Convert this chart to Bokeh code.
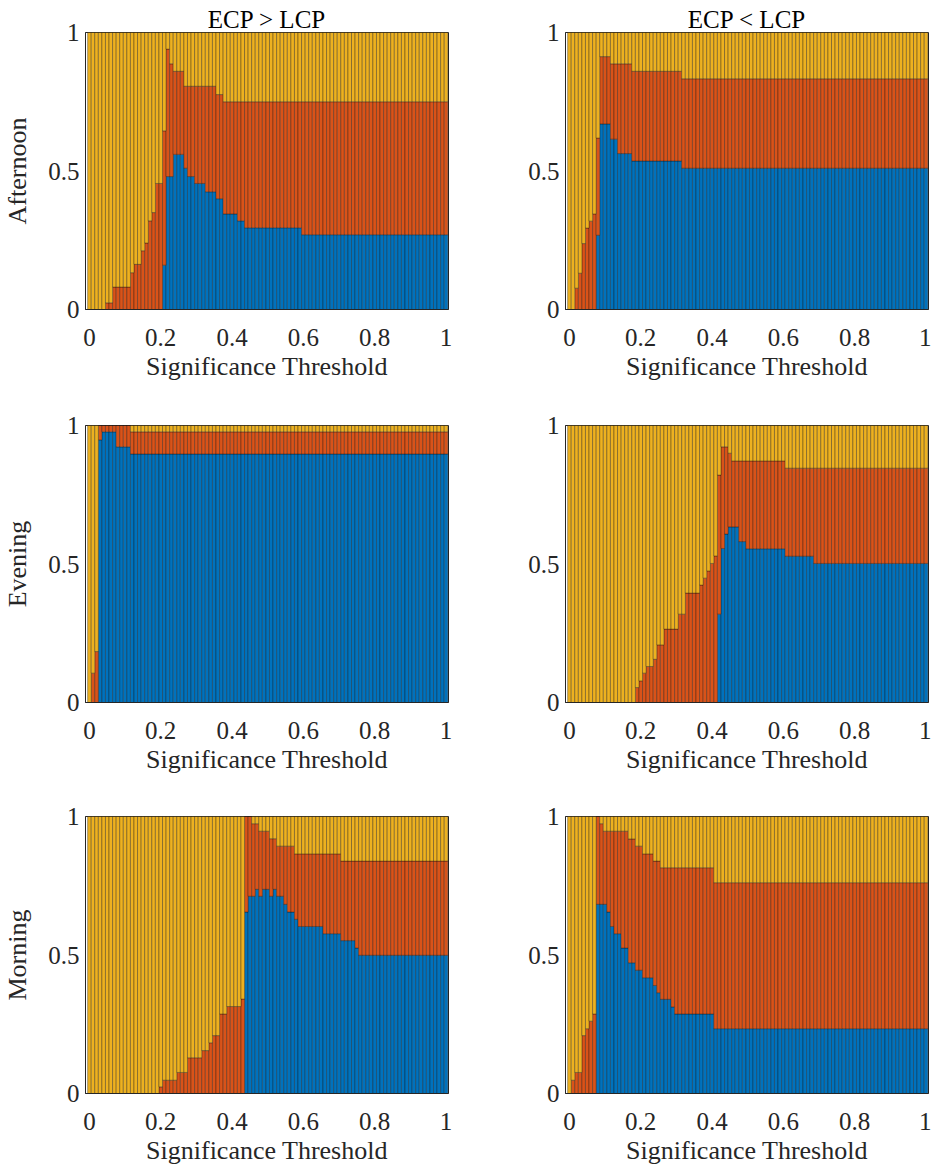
import numpy as np
from bokeh.plotting import figure
from bokeh.models import ColumnDataSource, Range1d, FixedTicker
from bokeh.layouts import column, row
from bokeh.embed import file_html
from bokeh.resources import INLINE

# ---------------- data ----------------
thresholds = np.round(np.arange(101) * 0.01, 2)   # significance thresholds 0 .. 1

col_titles = ["ECP > LCP", "ECP < LCP"]
row_titles = ["Afternoon", "Evening", "Morning"]
x_label = "Significance Threshold"
x_ticks = [0, 0.2, 0.4, 0.6, 0.8, 1]
x_tick_labels = ["0", "0.2", "0.4", "0.6", "0.8", "1"]
y_ticks = [0, 0.5, 1]
y_tick_labels = ["0", "0.5", "1"]
series_colors = ["#0072BD", "#D95319", "#EDB120"]   # blue, red, yellow

# "blue" = share of the bottom (blue) segment, "top" = upper edge of the red segment
# (the remaining share up to 1 is yellow)
aft_gt_blue = ([0] * 21 + [0.16] + [0.48] * 2 + [0.56] * 3 + [0.51] + [0.48] * 2 + [0.455] * 3
               + [0.425] * 3 + [0.40] * 2 + [0.345] * 4 + [0.32] * 2 + [0.295] * 16 + [0.27] * 41)
aft_gt_top = ([0] * 5 + [0.024] * 2 + [0.081] * 5 + [0.133] + [0.163] * 2 + [0.212] + [0.24] + [0.32]
              + [0.35] + [0.455] * 2 + [0.645] + [0.94] + [0.887] + [0.86] * 3 + [0.806] * 9
              + [0.776] * 2 + [0.75] * 63)

aft_lt_blue = [0] * 8 + [0.268] + [0.67] * 3 + [0.615] * 2 + [0.563] * 4 + [0.536] * 14 + [0.51] * 69
aft_lt_top = ([0] * 2 + [0.077, 0.131, 0.238, 0.294, 0.319, 0.345, 0.619] + [0.913] * 3 + [0.887] * 6
              + [0.86] * 14 + [0.833] * 69)

eve_gt_blue = [0] * 3 + [0.948] + [0.977] * 4 + [0.923] * 4 + [0.897] * 89
eve_gt_top = [0, 0.106, 0.184] + [1.0] * 9 + [0.977] * 89

eve_lt_blue = ([0] * 42 + [0.319, 0.556, 0.608] + [0.634] * 3 + [0.581] * 2 + [0.555] * 11
               + [0.528] * 8 + [0.502] * 32)
eve_lt_top = ([0] * 19 + [0.054, 0.078, 0.106] + [0.13] * 2 + [0.156] + [0.208] * 2 + [0.265] * 4
              + [0.319] * 2 + [0.395] * 4 + [0.424, 0.449, 0.475, 0.502, 0.529, 0.821] + [0.923] * 2
              + [0.90] + [0.872] * 15 + [0.846] * 40)

mor_gt_blue = ([0] * 44 + [0.655] + [0.712] * 2 + [0.737] + [0.712] + [0.737] * 2 + [0.712] + [0.737]
               + [0.712] * 2 + [0.683] + [0.655] * 2 + [0.629] + [0.603] * 7 + [0.577] * 5
               + [0.552] * 4 + [0.525] + [0.499] * 25)
mor_gt_top = ([0] * 20 + [0.024] + [0.048] * 4 + [0.076] * 3 + [0.129] * 4 + [0.155] * 2 + [0.183]
              + [0.209] * 2 + [0.287] * 2 + [0.314] * 4 + [0.341] + [1.0] * 2 + [0.974] * 2
              + [0.947] * 3 + [0.92] * 2 + [0.893] * 5 + [0.865] * 13 + [0.839] * 30)

mor_lt_blue = ([0] * 8 + [0.683] * 3 + [0.655] + [0.603] + [0.577] * 2 + [0.525] * 2 + [0.472] * 2
               + [0.445] * 2 + [0.418] * 3 + [0.39] + [0.364] + [0.34] * 3 + [0.3125] + [0.287] * 11
               + [0.234] * 60)
mor_lt_top = ([0] + [0.048] + [0.076] * 2 + [0.209, 0.234, 0.261, 0.287] + [1.0] + [0.974]
              + [0.947] * 7 + [0.919] * 2 + [0.893] * 2 + [0.865] * 3 + [0.839] * 2 + [0.815] * 15
              + [0.761] * 60)

panels = [
    [(aft_gt_blue, aft_gt_top), (aft_lt_blue, aft_lt_top)],
    [(eve_gt_blue, eve_gt_top), (eve_lt_blue, eve_lt_top)],
    [(mor_gt_blue, mor_gt_top), (mor_lt_blue, mor_lt_top)],
]

# ---------------- styling ----------------
FONT = "Liberation Serif"
TXT = "#262626"
X_MIN, X_MAX = -0.011, 1.007
BORDER_TOP = [32, 24, 24]
BORDER_BOTTOM = [92, 90, 76]


def make_panel(blue, top, r, c):
    blue = np.asarray(blue, dtype=float)
    top = np.asarray(top, dtype=float)
    src = ColumnDataSource(dict(x=thresholds, blue=blue, red=top - blue, yellow=1.0 - top))

    p = figure(
        frame_width=363, frame_height=277,
        x_range=Range1d(X_MIN, X_MAX), y_range=Range1d(0, 1),
        output_backend="svg", toolbar_location=None,
        min_border_left=85 if c == 0 else 77, min_border_right=40 if c == 0 else 3,
        min_border_top=BORDER_TOP[r], min_border_bottom=BORDER_BOTTOM[r],
    )
    p.vbar_stack(["blue", "red", "yellow"], x="x", width=0.01, source=src,
                 color=series_colors, line_color="#111111", line_width=0.35)

    p.xgrid.visible = False
    p.ygrid.visible = False
    p.background_fill_color = "white"
    p.border_fill_color = "white"
    p.outline_line_color = TXT
    p.outline_line_width = 1

    for ax in (p.xaxis[0], p.yaxis[0]):
        ax.axis_line_color = TXT
        ax.axis_line_width = 1
        ax.major_tick_in = 0
        ax.major_tick_out = 0
        ax.minor_tick_in = 0
        ax.minor_tick_out = 0
        ax.major_label_text_font = FONT
        ax.major_label_text_font_size = "25px"
        ax.major_label_text_color = TXT
        ax.major_label_text_line_height = 1.0
        ax.axis_label_text_font = FONT
        ax.axis_label_text_font_size = "26px"
        ax.axis_label_text_font_style = "normal"
        ax.axis_label_text_color = TXT
        ax.axis_label_text_line_height = 1.0

    p.xaxis.ticker = FixedTicker(ticks=x_ticks)
    p.xaxis.major_label_overrides = dict(zip(x_ticks, x_tick_labels))
    p.xaxis.major_label_standoff = 19
    p.xaxis.axis_label = x_label
    p.xaxis.axis_label_standoff = 3

    p.yaxis.ticker = FixedTicker(ticks=y_ticks)
    p.yaxis.major_label_overrides = dict(zip(y_ticks, y_tick_labels))
    p.yaxis.major_label_standoff = 6

    if c == 0:
        p.yaxis.axis_label = row_titles[r]
        p.yaxis.axis_label_standoff = 13

    if r == 0:
        p.title.text = col_titles[c]
        p.title.align = "center"
        p.title.text_font = FONT
        p.title.text_font_size = "25px"
        p.title.text_font_style = "normal"
        p.title.text_color = "black"
        p.title.text_line_height = 1.0
        p.title.standoff = 0
    return p


rows = []
for r in range(3):
    figs = [make_panel(panels[r][c][0], panels[r][c][1], r, c) for c in range(2)]
    rows.append(row(*figs))
layout = column(*rows)

open("out.html", "w").write(file_html(layout, INLINE))
